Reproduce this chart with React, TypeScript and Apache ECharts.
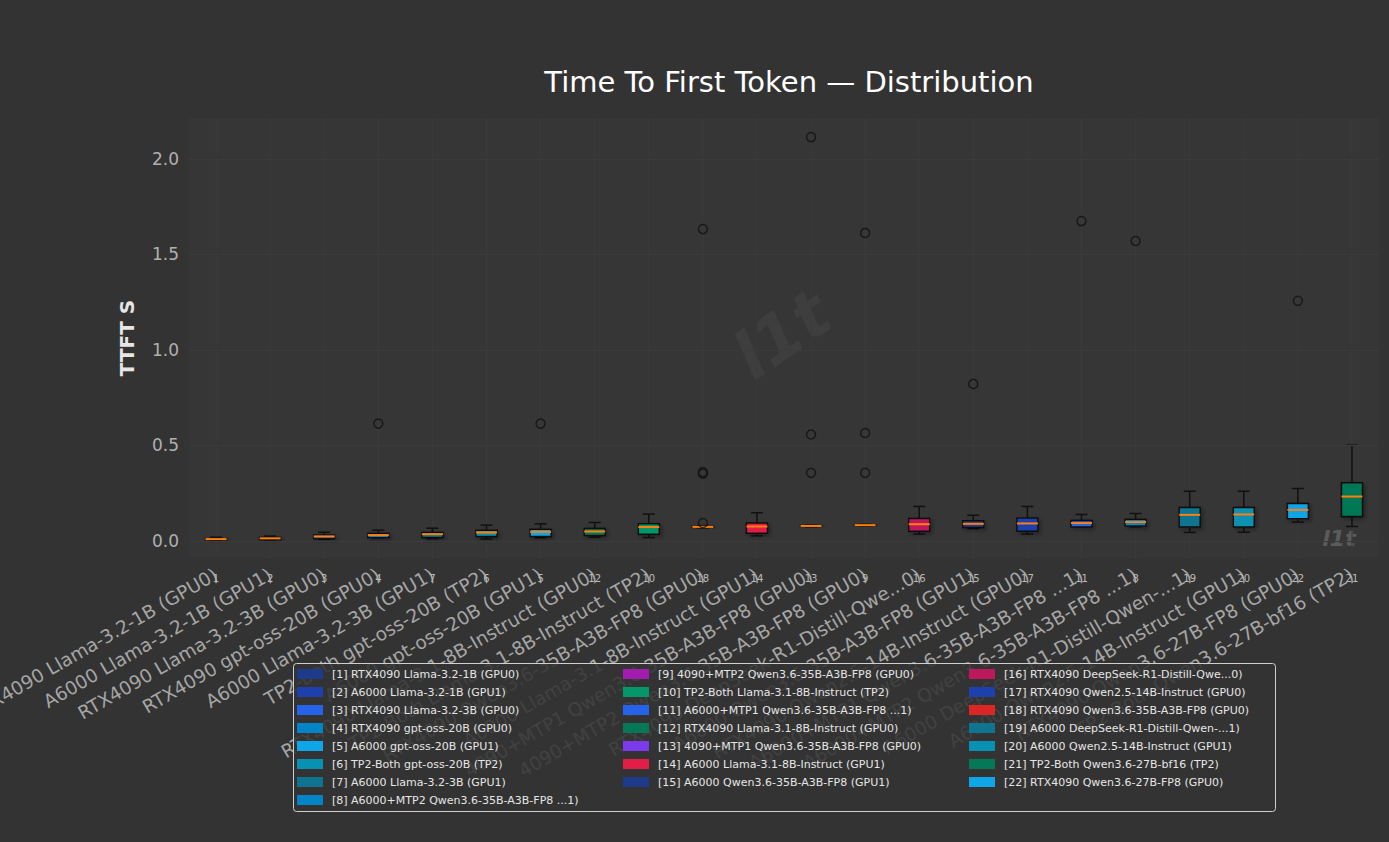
import React, { useEffect, useRef } from "react";
import * as echarts from "echarts";

// Legend entries, numbered 1..22
const legendNames = [
  "[1] RTX4090 Llama-3.2-1B (GPU0)",
  "[2] A6000 Llama-3.2-1B (GPU1)",
  "[3] RTX4090 Llama-3.2-3B (GPU0)",
  "[4] RTX4090 gpt-oss-20B (GPU0)",
  "[5] A6000 gpt-oss-20B (GPU1)",
  "[6] TP2-Both gpt-oss-20B (TP2)",
  "[7] A6000 Llama-3.2-3B (GPU1)",
  "[8] A6000+MTP2 Qwen3.6-35B-A3B-FP8 ...1)",
  "[9] 4090+MTP2 Qwen3.6-35B-A3B-FP8 (GPU0)",
  "[10] TP2-Both Llama-3.1-8B-Instruct (TP2)",
  "[11] A6000+MTP1 Qwen3.6-35B-A3B-FP8 ...1)",
  "[12] RTX4090 Llama-3.1-8B-Instruct (GPU0)",
  "[13] 4090+MTP1 Qwen3.6-35B-A3B-FP8 (GPU0)",
  "[14] A6000 Llama-3.1-8B-Instruct (GPU1)",
  "[15] A6000 Qwen3.6-35B-A3B-FP8 (GPU1)",
  "[16] RTX4090 DeepSeek-R1-Distill-Qwe...0)",
  "[17] RTX4090 Qwen2.5-14B-Instruct (GPU0)",
  "[18] RTX4090 Qwen3.6-35B-A3B-FP8 (GPU0)",
  "[19] A6000 DeepSeek-R1-Distill-Qwen-...1)",
  "[20] A6000 Qwen2.5-14B-Instruct (GPU1)",
  "[21] TP2-Both Qwen3.6-27B-bf16 (TP2)",
  "[22] RTX4090 Qwen3.6-27B-FP8 (GPU0)",
];

// Colour of each numbered entry 1..22
const entryColors = [
  "#1e3a8a", "#1e40af", "#2563eb", "#0284c7", "#0ea5e9", "#0891b2",
  "#0e7490", "#0284c7", "#a21caf", "#059669", "#2563eb", "#047857",
  "#7c3aed", "#e11d48", "#1e3a8a", "#be185d", "#1e40af", "#dc2626",
  "#0e7490", "#0891b2", "#047857", "#0ea5e9",
];

// x-axis order (entry numbers, sorted by median)
const orderIndex = [1, 2, 3, 4, 7, 6, 5, 12, 10, 18, 14, 13, 9, 16, 15, 17, 11, 8, 19, 20, 22, 21];

const categories = [
  "RTX4090 Llama-3.2-1B (GPU0)",
  "A6000 Llama-3.2-1B (GPU1)",
  "RTX4090 Llama-3.2-3B (GPU0)",
  "RTX4090 gpt-oss-20B (GPU0)",
  "A6000 Llama-3.2-3B (GPU1)",
  "TP2-Both gpt-oss-20B (TP2)",
  "A6000 gpt-oss-20B (GPU1)",
  "RTX4090 Llama-3.1-8B-Instruct (GPU0)",
  "TP2-Both Llama-3.1-8B-Instruct (TP2)",
  "RTX4090 Qwen3.6-35B-A3B-FP8 (GPU0)",
  "A6000 Llama-3.1-8B-Instruct (GPU1)",
  "4090+MTP1 Qwen3.6-35B-A3B-FP8 (GPU0)",
  "4090+MTP2 Qwen3.6-35B-A3B-FP8 (GPU0)",
  "RTX4090 DeepSeek-R1-Distill-Qwe...0)",
  "A6000 Qwen3.6-35B-A3B-FP8 (GPU1)",
  "RTX4090 Qwen2.5-14B-Instruct (GPU0)",
  "A6000+MTP1 Qwen3.6-35B-A3B-FP8 ...1)",
  "A6000+MTP2 Qwen3.6-35B-A3B-FP8 ...1)",
  "A6000 DeepSeek-R1-Distill-Qwen-...1)",
  "A6000 Qwen2.5-14B-Instruct (GPU1)",
  "RTX4090 Qwen3.6-27B-FP8 (GPU0)",
  "TP2-Both Qwen3.6-27B-bf16 (TP2)",
];

// Box statistics per x position (seconds)
const whiskerLow = [0.004, 0.004, 0.009, 0.014, 0.012, 0.010, 0.016, 0.019, 0.017, 0.068, 0.026, 0.074, 0.078, 0.035, 0.064, 0.035, 0.073, 0.073, 0.044, 0.045, 0.098, 0.075];
const q1 = [0.005, 0.006, 0.012, 0.016, 0.018, 0.023, 0.023, 0.028, 0.035, 0.071, 0.040, 0.076, 0.080, 0.050, 0.070, 0.050, 0.073, 0.077, 0.073, 0.073, 0.115, 0.127];
const medians = [0.009, 0.013, 0.023, 0.030, 0.035, 0.044, 0.047, 0.049, 0.072, 0.073, 0.075, 0.078, 0.082, 0.087, 0.089, 0.091, 0.093, 0.098, 0.136, 0.138, 0.162, 0.232];
const q3 = [0.011, 0.018, 0.031, 0.040, 0.044, 0.056, 0.061, 0.064, 0.089, 0.076, 0.093, 0.080, 0.084, 0.117, 0.105, 0.119, 0.106, 0.113, 0.174, 0.174, 0.195, 0.304];
const whiskerHigh = [0.019, 0.025, 0.045, 0.056, 0.066, 0.082, 0.089, 0.096, 0.140, 0.080, 0.147, 0.082, 0.086, 0.180, 0.134, 0.180, 0.138, 0.143, 0.260, 0.260, 0.274, 0.501];

// Outliers: [x position, value]
const outliers: [number, number][] = [
  [3, 0.614],
  [6, 0.614],
  [9, 0.093], [9, 0.352], [9, 0.360], [9, 1.633],
  [11, 0.356], [11, 0.557], [11, 2.115],
  [12, 0.356], [12, 0.565], [12, 1.613],
  [14, 0.822],
  [16, 1.675],
  [17, 1.571],
  [20, 1.257],
];

const yTickValues = [0, 0.5, 1.0, 1.5, 2.0];

const FONT = "DejaVu Sans";

export default function App() {
  const ref = useRef<HTMLDivElement>(null);

  useEffect(() => {
    if (!ref.current) return;
    const chart = echarts.init(ref.current, undefined, { renderer: "svg" });

    const boxData = categories.map((_, i) => [i, whiskerLow[i], q1[i], medians[i], q3[i], whiskerHigh[i]]);

    const renderBox = (params: any, api: any) => {
      const i = params.dataIndex;
      const x = api.value(0);
      const cs = params.coordSys;
      const pLo = api.coord([x, api.value(1)]);
      const pQ1 = api.coord([x, api.value(2)]);
      const pMed = api.coord([x, api.value(3)]);
      const pQ3 = api.coord([x, api.value(4)]);
      const pHi = api.coord([x, api.value(5)]);
      const cx = pMed[0];
      const hw = 10.5;
      const cap = 6;
      const color = entryColors[orderIndex[i] - 1];
      const stroke = { stroke: "#111111", lineWidth: 1.5 };
      return {
        type: "group",
        children: [
          { type: "line", shape: { x1: cx, y1: cs.y, x2: cx, y2: cs.y + cs.height }, style: { stroke: "#3b3b3b", lineWidth: 1 }, silent: true },
          { type: "line", shape: { x1: cx, y1: pQ1[1], x2: cx, y2: pLo[1] }, style: stroke },
          { type: "line", shape: { x1: cx, y1: pQ3[1], x2: cx, y2: pHi[1] }, style: stroke },
          { type: "line", shape: { x1: cx - cap, y1: pLo[1], x2: cx + cap, y2: pLo[1] }, style: stroke },
          { type: "line", shape: { x1: cx - cap, y1: pHi[1], x2: cx + cap, y2: pHi[1] }, style: stroke },
          {
            type: "rect",
            shape: { x: cx - hw, y: pQ3[1], width: hw * 2, height: Math.max(pQ1[1] - pQ3[1], 0.5) },
            style: {
              fill: color, stroke: "#111111", lineWidth: 1.5,
              shadowBlur: 4, shadowOffsetX: 2, shadowOffsetY: 2, shadowColor: "rgba(0,0,0,0.35)",
            },
          },
          { type: "line", shape: { x1: cx - hw, y1: pMed[1], x2: cx + hw, y2: pMed[1] }, style: { stroke: "#ff7f0e", lineWidth: 2 } },
        ],
      };
    };

    const legendCols = [
      { left: 297, items: legendNames.slice(0, 8) },
      { left: 623, items: legendNames.slice(8, 15) },
      { left: 969, items: legendNames.slice(15, 22) },
    ];

    const option: any = {
      animation: false,
      backgroundColor: "#333333",
      textStyle: { fontFamily: FONT },
      title: {
        text: "Time To First Token \u2014 Distribution",
        left: 784,
        top: 62,
        textAlign: "center",
        textStyle: { color: "#ffffff", fontSize: 29, fontWeight: "normal", fontFamily: FONT },
      },
      grid: {
        left: 189, right: 10, top: 118, bottom: 284,
        outerBoundsMode: "none",
        containLabel: false,
        show: true, backgroundColor: "#363636", borderWidth: 0,
      },
      xAxis: [
        {
          type: "category",
          data: categories,
          position: "bottom",
          axisLine: { show: false },
          axisTick: { show: false },
          splitLine: { show: false },
          axisLabel: {
            interval: 0, rotate: 30, margin: 15, color: "#a6a6a6", fontSize: 18.5, fontFamily: FONT,
          },
        },
        {
          type: "category",
          data: orderIndex.map(String),
          position: "bottom",
          offset: 0,
          axisLine: { show: false },
          axisTick: { show: false },
          splitLine: { show: false },
          axisLabel: { interval: 0, margin: 15, color: "#bbbbbb", fontSize: 10, fontFamily: FONT },
        },
      ],
      yAxis: {
        type: "value",
        min: -0.09,
        max: 2.215,
        interval: 0.01,
        name: "TTFT S",
        nameLocation: "middle",
        nameGap: 52,
        nameTextStyle: { color: "#e6e6e6", fontSize: 20, fontWeight: "bold", fontFamily: FONT },
        axisLine: { show: false },
        axisTick: { show: false },
        splitLine: { show: false },
        axisLabel: {
          margin: 10,
          color: "#b0b0b0",
          fontSize: 17,
          fontFamily: FONT,
          formatter: (v: number) => {
            const t = v * 2;
            return Math.abs(t - Math.round(t)) < 1e-6 && v > -0.01 ? v.toFixed(1) : "";
          },
        },
      },
      legend: legendCols.map((c) => ({
        orient: "vertical",
        left: c.left,
        top: 667,
        padding: 0,
        itemWidth: 26,
        itemHeight: 10,
        itemGap: 4,
        icon: "rect",
        selectedMode: false,
        data: c.items,
        textStyle: { color: "#e6e6e6", fontSize: 11, fontFamily: FONT, lineHeight: 14, padding: [0, 0, 0, 4] },
        z: 5,
      })),
      graphic: [
        {
          type: "text",
          x: 782, y: 335,
          rotation: 0.6,
          z: 1,
          style: {
            text: "l1t", fill: "rgba(255,255,255,0.045)", font: "italic bold 66px DejaVu Sans",
            align: "center", verticalAlign: "middle",
          },
        },
        {
          type: "text",
          x: 1339, y: 538,
          z: 1,
          style: {
            text: "l1t", fill: "rgba(255,255,255,0.2)", font: "italic bold 22px DejaVu Sans",
            align: "center", verticalAlign: "middle",
          },
        },
        {
          type: "rect",
          left: 293, top: 663,
          z: 3,
          shape: { width: 982, height: 148, r: 3 },
          style: { fill: "rgba(51,51,51,0.88)", stroke: "#d0d0d0", lineWidth: 1 },
        },
      ],
      series: [
        {
          type: "scatter",
          name: "grid",
          data: [],
          z: 1,
          silent: true,
          markLine: {
            silent: true,
            symbol: "none",
            label: { show: false },
            lineStyle: { color: "#3b3b3b", width: 1, type: "solid" },
            data: yTickValues.map((v) => ({ yAxis: v })),
          },
        },
        {
          type: "custom",
          name: "boxes",
          renderItem: renderBox,
          data: boxData,
          encode: { x: 0, y: [1, 2, 3, 4, 5] },
          z: 2,
        },
        {
          type: "scatter",
          name: "outliers",
          data: outliers,
          symbol: "circle",
          symbolSize: 9,
          itemStyle: { color: "rgba(0,0,0,0)", borderColor: "#111111", borderWidth: 1.5 },
          z: 3,
        },
        ...legendNames.map((n, k) => ({
          type: "line",
          name: n,
          data: [],
          itemStyle: { color: entryColors[k] },
          lineStyle: { color: entryColors[k] },
        })),
      ],
    };

    chart.setOption(option);
    return () => chart.dispose();
  }, []);

  return (
    <div
      ref={ref}
      style={{ position: "fixed", left: 0, top: 0, width: 1389, height: 842, background: "#333333" }}
    />
  );
}
